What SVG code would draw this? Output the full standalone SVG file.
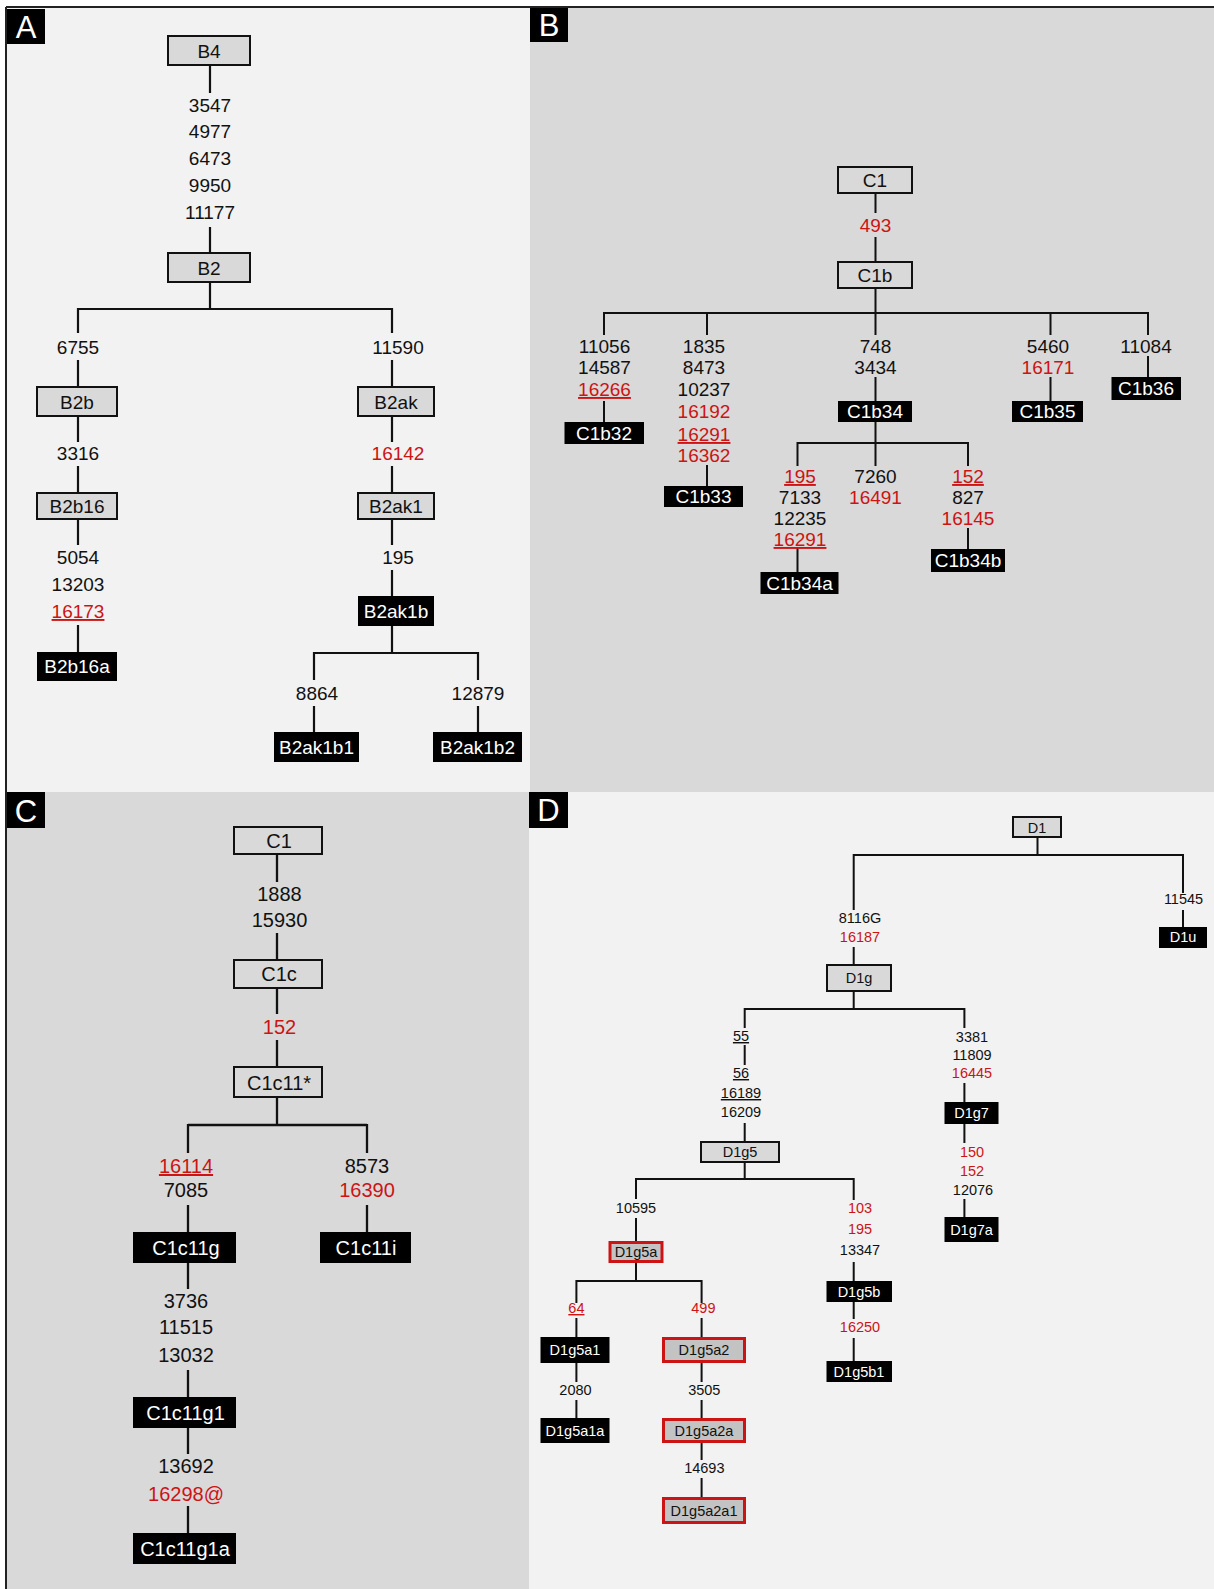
<svg xmlns="http://www.w3.org/2000/svg" width="1214" height="1589" viewBox="0 0 1214 1589">
<style>
text{font-family:"Liberation Sans",Arial,sans-serif;text-anchor:middle;fill:#111}
.ta{font-size:19px}.tc{font-size:20px}.tb{font-size:19px}.td{font-size:14.5px}
.w{fill:#fff}.r{fill:#cc1414}.u{text-decoration:underline}
.ln{stroke:#111;fill:none}
.lA{stroke-width:2.2}.lB{stroke-width:2}.lC{stroke-width:2.3}.lD{stroke-width:2}
.g{fill:#d9d9d9;stroke:#111;stroke-width:2}
.k{fill:#000}
.rb{fill:#c3c3c3;stroke:#cc1414;stroke-width:3}
.pl{font-size:31px;fill:#fff}
</style>
<rect width="1214" height="1589" fill="#fff"/>
<g id="panels">
<rect x="7" y="8" width="523" height="784" fill="#f2f2f2"/>
<rect x="530" y="8" width="684" height="784" fill="#d9d9d9"/>
<rect x="7" y="792" width="522" height="797" fill="#d9d9d9"/>
<rect x="529" y="792" width="685" height="797" fill="#f2f2f2"/>
<path d="M6,7H1214M6,7V1589" stroke="#222" stroke-width="2" fill="none"/>
<rect x="7" y="9" width="38" height="35" fill="#000"/><text class="pl" x="26" y="37.5">A</text>
<rect x="530" y="8" width="38" height="34" fill="#000"/><text class="pl" x="549" y="36">B</text>
<rect x="7" y="792" width="38" height="36" fill="#000"/><text class="pl" x="26" y="821.5">C</text>
<rect x="529" y="792" width="39" height="36" fill="#000"/><text class="pl" x="548.5" y="821">D</text>
</g>

<g id="connectors">
<path class="ln lA" d="M210,65V93M210,227V253M210,282V309M78,309H392M78,308V333M392,308V333M78,360V387M392,360V387M78,416V442M78,466V493M78,519V545M78,625V652M392,416V442M392,466V493M392,519V545M392,570V596M392,626V653M314,653H478M314,652V680M478,652V680M314,706V732M478,706V732"/>
<path class="ln lB" d="M875.5,193V213M875.5,237V262M875.5,288V313M604,313H1148M604,312V335M707,312V335M875.5,312V335M1050.5,312V335M1148,312V335M604,401V422M707,465V486M875.5,377V401M875.5,422V443M797.5,443H968M797.5,442V466M875.5,442V466M968,442V466M797.5,548V572M968,528V549M1050.5,377V401M1148,356V377"/>
<path class="ln lC" d="M277,854V882M277,933V960M277,988V1014M277,1040V1067M277,1097V1125M188,1125H367M188,1124V1153M367,1124V1153M188,1205V1232M367,1205V1232M188,1263V1289M188,1370V1397M188,1428V1454M188,1506V1533"/>
<path class="ln lD" d="M1037.5,837V855M853.7,855H1183M853.7,854V910M1183,854V893M1183,910V927M853.7,947V965M853.7,991V1009M744.7,1009H964.4M744.7,1008V1028M964.4,1008V1028M744.7,1045V1065M744.7,1123V1142M964.4,1083V1102M964.4,1124V1143M964.4,1199V1217M744.7,1162V1179M636,1179H853.7M636,1178V1199M853.7,1178V1200M636,1218V1241M636,1263V1281M576.4,1281H701.6M576.4,1280V1303M701.6,1280V1303M576.4,1318V1337M701.6,1318V1337M576.4,1363V1382M701.6,1363V1382M576.4,1400V1418M701.6,1400V1418M701.6,1443V1460M701.6,1478V1497M853.7,1262V1281M853.7,1302V1319M853.7,1338V1361"/>
</g>

<g id="labels-A" class="ta">
<text x="210" y="112">3547</text><text x="210" y="138">4977</text><text x="210" y="164.5">6473</text><text x="210" y="191.5">9950</text><text x="210" y="218.5">11177</text>
<text x="78" y="354">6755</text><text x="398" y="354">11590</text>
<text x="78" y="460">3316</text><text class="r" x="398" y="460">16142</text>
<text x="78" y="564">5054</text><text x="78" y="591">13203</text><text class="r u" x="78" y="618">16173</text>
<text x="398" y="564">195</text>
<text x="317" y="700">8864</text><text x="478" y="700">12879</text>
</g>

<g id="labels-B" class="tb">
<text class="r" x="875.5" y="232">493</text>
<text x="604.5" y="353">11056</text><text x="604.5" y="374">14587</text><text class="r u" x="604.5" y="396">16266</text>
<text x="704" y="353">1835</text><text x="704" y="374">8473</text><text x="704" y="396">10237</text><text class="r" x="704" y="418">16192</text><text class="r u" x="704" y="441">16291</text><text class="r" x="704" y="462">16362</text>
<text x="875.5" y="353">748</text><text x="875.5" y="374">3434</text>
<text x="1048" y="353">5460</text><text class="r" x="1048" y="374">16171</text>
<text x="1146" y="353">11084</text>
<text class="r u" x="800" y="483">195</text><text x="800" y="504">7133</text><text x="800" y="525">12235</text><text class="r u" x="800" y="546">16291</text>
<text x="875.5" y="483">7260</text><text class="r" x="875.5" y="504">16491</text>
<text class="r u" x="968" y="483">152</text><text x="968" y="504">827</text><text class="r" x="968" y="525">16145</text>
</g>

<g id="labels-C" class="tc">
<text x="279.5" y="901">1888</text><text x="279.5" y="927">15930</text><text class="r" x="279.5" y="1034">152</text>
<text class="r u" x="186" y="1173">16114</text><text x="186" y="1197">7085</text>
<text x="367" y="1173">8573</text><text class="r" x="367" y="1197">16390</text>
<text x="186" y="1308">3736</text><text x="186" y="1334">11515</text><text x="186" y="1362">13032</text>
<text x="186" y="1473">13692</text><text class="r" x="186" y="1501">16298@</text>
</g>

<g id="labels-D" class="td">
<text x="1183.5" y="904">11545</text>
<text x="860" y="923">8116G</text><text class="r" x="860" y="942">16187</text>
<text class="u" x="741" y="1041">55</text><text class="u" x="741" y="1078">56</text><text class="u" x="741" y="1098">16189</text><text x="741" y="1117">16209</text>
<text x="972" y="1042">3381</text><text x="972" y="1060">11809</text><text class="r" x="972" y="1078">16445</text>
<text class="r" x="972" y="1157">150</text><text class="r" x="972" y="1176">152</text><text x="973" y="1195">12076</text>
<text x="636" y="1213">10595</text>
<text class="r" x="860" y="1213">103</text><text class="r" x="860" y="1234">195</text><text x="860" y="1255">13347</text><text class="r" x="860" y="1332">16250</text>
<text class="r u" x="576.4" y="1313">64</text><text class="r" x="703.4" y="1313">499</text>
<text x="575.5" y="1395">2080</text><text x="704.3" y="1395">3505</text><text x="704.3" y="1473">14693</text>
</g>

<g class="ta">
<g id="B4"><rect class="g" x="168" y="36" width="82" height="29"/><text x="209" y="57.5">B4</text></g>
<g id="B2"><rect class="g" x="168" y="253" width="82" height="29"/><text x="209" y="274.5">B2</text></g>
<g id="B2b"><rect class="g" x="37" y="387" width="80" height="29"/><text x="77" y="408.5">B2b</text></g>
<g id="B2ak"><rect class="g" x="358" y="387" width="76" height="29"/><text x="396" y="408.5">B2ak</text></g>
<g id="B2b16"><rect class="g" x="37" y="493" width="80" height="26"/><text x="77" y="512.7">B2b16</text></g>
<g id="B2ak1"><rect class="g" x="358" y="493" width="76" height="26"/><text x="396" y="512.7">B2ak1</text></g>
<g id="B2b16a"><rect class="k" x="37" y="652" width="80" height="29"/><text class="w" x="77" y="673">B2b16a</text></g>
<g id="B2ak1b"><rect class="k" x="358" y="596" width="76" height="30"/><text class="w" x="396" y="618">B2ak1b</text></g>
<g id="B2ak1b1"><rect class="k" x="274" y="732" width="85" height="30"/><text class="w" x="316.5" y="753.5">B2ak1b1</text></g>
<g id="B2ak1b2"><rect class="k" x="433" y="732" width="89" height="30"/><text class="w" x="477.5" y="753.5">B2ak1b2</text></g>
</g>

<g class="tb">
<g id="C1-b"><rect class="g" x="838" y="167" width="74" height="26"/><text x="875" y="187">C1</text></g>
<g id="C1b"><rect class="g" x="838" y="262" width="74" height="26"/><text x="875" y="282">C1b</text></g>
<g id="C1b32"><rect class="k" x="564.5" y="422" width="79.5" height="22"/><text class="w" x="604" y="440">C1b32</text></g>
<g id="C1b33"><rect class="k" x="664" y="486" width="79" height="21"/><text class="w" x="703.5" y="503.3">C1b33</text></g>
<g id="C1b34"><rect class="k" x="838" y="401" width="74" height="21"/><text class="w" x="875" y="418.3">C1b34</text></g>
<g id="C1b35"><rect class="k" x="1012" y="401" width="71" height="21"/><text class="w" x="1047.5" y="418.3">C1b35</text></g>
<g id="C1b36"><rect class="k" x="1111.5" y="377" width="69.5" height="23"/><text class="w" x="1146" y="395">C1b36</text></g>
<g id="C1b34a"><rect class="k" x="760.5" y="572" width="78" height="22"/><text class="w" x="799.5" y="590">C1b34a</text></g>
<g id="C1b34b"><rect class="k" x="931" y="549" width="74" height="23"/><text class="w" x="968" y="567.3">C1b34b</text></g>
</g>

<g class="tc">
<g id="C1-c"><rect class="g" x="234" y="827" width="88" height="27"/><text x="279" y="848">C1</text></g>
<g id="C1c"><rect class="g" x="234" y="960" width="88" height="28"/><text x="279" y="981">C1c</text></g>
<g id="C1c11star"><rect class="g" x="234" y="1067" width="88" height="30"/><text x="279" y="1090">C1c11*</text></g>
<g id="C1c11g"><rect class="k" x="133" y="1232" width="103" height="31"/><text class="w" x="186" y="1255">C1c11g</text></g>
<g id="C1c11i"><rect class="k" x="320" y="1232" width="91" height="31"/><text class="w" x="366" y="1255">C1c11i</text></g>
<g id="C1c11g1"><rect class="k" x="133" y="1397" width="103" height="31"/><text class="w" x="185.5" y="1419.5">C1c11g1</text></g>
<g id="C1c11g1a"><rect class="k" x="133" y="1533" width="103" height="31"/><text class="w" x="185" y="1555.5">C1c11g1a</text></g>
</g>

<g class="td">
<g id="D1"><rect class="g" x="1013" y="817" width="48" height="20"/><text x="1037" y="832.5">D1</text></g>
<g id="D1u"><rect class="k" x="1159" y="927" width="48" height="21"/><text class="w" x="1183" y="942.3">D1u</text></g>
<g id="D1g"><rect class="g" x="827" y="965" width="64" height="26"/><text x="859" y="982.7">D1g</text></g>
<g id="D1g5"><rect class="g" x="701" y="1142" width="78" height="20"/><text x="740" y="1156.7">D1g5</text></g>
<g id="D1g7"><rect class="k" x="944.5" y="1102" width="54" height="22"/><text class="w" x="971.5" y="1117.7">D1g7</text></g>
<g id="D1g7a"><rect class="k" x="944.5" y="1217" width="54" height="25"/><text class="w" x="971.5" y="1235">D1g7a</text></g>
<g id="D1g5a"><rect class="rb" x="610" y="1242.5" width="52" height="19"/><text x="636" y="1256.5">D1g5a</text></g>
<g id="D1g5a1"><rect class="k" x="540.5" y="1337" width="69" height="26"/><text class="w" x="575" y="1355">D1g5a1</text></g>
<g id="D1g5a2"><rect class="rb" x="663.5" y="1338.5" width="81" height="23"/><text x="704" y="1355">D1g5a2</text></g>
<g id="D1g5a1a"><rect class="k" x="540.5" y="1418" width="69" height="25"/><text class="w" x="575" y="1436">D1g5a1a</text></g>
<g id="D1g5a2a"><rect class="rb" x="663.5" y="1419.5" width="81" height="22"/><text x="704" y="1436">D1g5a2a</text></g>
<g id="D1g5a2a1"><rect class="rb" x="663.5" y="1498.5" width="81" height="24"/><text x="704" y="1515.7">D1g5a2a1</text></g>
<g id="D1g5b"><rect class="k" x="826.5" y="1281" width="65.5" height="21"/><text class="w" x="859" y="1296.7">D1g5b</text></g>
<g id="D1g5b1"><rect class="k" x="826.5" y="1361" width="65.5" height="21"/><text class="w" x="859" y="1377.3">D1g5b1</text></g>
</g>
</svg>
